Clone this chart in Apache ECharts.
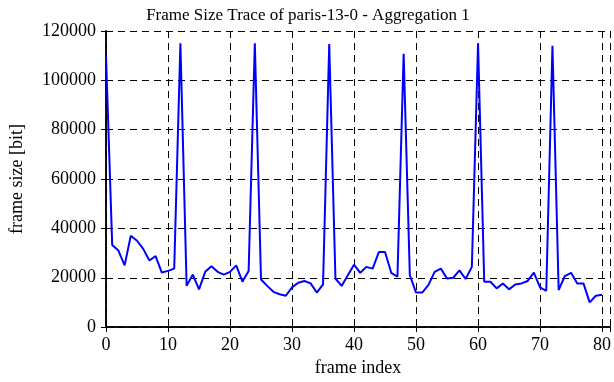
<!DOCTYPE html>
<html><head><meta charset="utf-8">
<script src="https://cdn.jsdelivr.net/npm/echarts@6/dist/echarts.min.js"></script>
<style>html,body{margin:0;padding:0;background:#fff}#c{width:614px;height:382px}</style>
</head><body><div id="c"></div>
<script>
const frameIndex = [];
for (let i = 0; i <= 80; i++) frameIndex.push(i);
const frameSize = [
  110000, 33300, 31000, 25000, 37000, 35000, 31700, 27000, 28800, 22100,
  22800, 23700, 115000, 16700, 21300, 15300, 22400, 24700, 22400, 21300,
  22400, 25000, 18400, 22700, 115000, 19300, 16700, 14300, 13300, 12700,
  16100, 18000, 18700, 17700, 14000, 17300, 114700, 19700, 16700, 21000,
  25300, 22000, 24400, 23700, 30400, 30400, 22000, 20400, 110800, 21000,
  14000, 14000, 17100, 22400, 23700, 19700, 20000, 23000, 19500, 24400,
  115000, 18400, 18400, 15700, 17700, 15300, 17300, 17700, 18700, 22100,
  16100, 14700, 114000, 15000, 20700, 22000, 17700, 17700, 10000, 12700,
  13100
];
const yTicks = [0, 20000, 40000, 60000, 80000, 100000, 120000];
const xTicks = [0, 10, 20, 30, 40, 50, 60, 70, 80];

const font = 'Liberation Serif';
const chart = echarts.init(document.getElementById('c'), null, {renderer: 'canvas'});
const dash = {type: [7, 5], color: '#000', width: 1};
chart.setOption({
  animation: false,
  title: {
    text: 'Frame Size Trace of paris-13-0 - Aggregation 1',
    left: 303, top: 2, textAlign: 'center',
    textStyle: {fontFamily: font, fontSize: 17, fontWeight: 'normal', color: '#000'}
  },
  grid: {left: 102, right: 3, top: 31, bottom: 51},
  xAxis: [{
    type: 'value', min: 0, max: 81.3, interval: 10,
    name: 'frame index', nameLocation: 'middle', nameGap: 31,
    nameTextStyle: {fontFamily: font, fontSize: 18, color: '#000'},
    axisLine: {lineStyle: {color: '#000', width: 1.5}},
    axisTick: {inside: true, length: 5, lineStyle: {color: '#000'}},
    axisLabel: {fontFamily: font, fontSize: 18, color: '#000', margin: 9, showMaxLabel: false,
      formatter: v => xTicks.includes(v) ? String(v) : ''},
    splitLine: {show: true, lineStyle: dash}
  }, {
    type: 'value', position: 'top', min: 0, max: 81.3, interval: 10,
    axisLine: {show: true, lineStyle: {color: '#000', width: 1.5}},
    axisTick: {inside: true, length: 5, lineStyle: {color: '#000'}},
    axisLabel: {show: false}, splitLine: {show: false}
  }],
  yAxis: [{
    type: 'value', min: 0, max: 120000, interval: 20000,
    name: 'frame size [bit]', nameLocation: 'middle', nameGap: 80,
    nameTextStyle: {fontFamily: font, fontSize: 18, color: '#000'},
    axisLine: {show: true, lineStyle: {color: '#000', width: 1.5}},
    axisTick: {show: true, inside: true, length: 5, lineStyle: {color: '#000'}},
    axisLabel: {fontFamily: font, fontSize: 18, color: '#000', margin: 10,
      formatter: v => yTicks.includes(v) ? String(v) : ''},
    splitLine: {show: true, lineStyle: dash}
  }, {
    type: 'value', position: 'right', min: 0, max: 120000, interval: 20000,
    axisLine: {show: true, lineStyle: {color: '#000', width: 1.5}},
    axisTick: {show: true, inside: true, length: 5, lineStyle: {color: '#000'}},
    axisLabel: {show: false}, splitLine: {show: false}
  }],
  series: [{
    type: 'line', xAxisIndex: 0, yAxisIndex: 0,
    data: frameIndex.map((x, i) => [x, frameSize[i]]),
    showSymbol: false, symbol: 'none',
    lineStyle: {color: '#0000ff', width: 2},
    z: 3
  }]
});
</script></body></html>
